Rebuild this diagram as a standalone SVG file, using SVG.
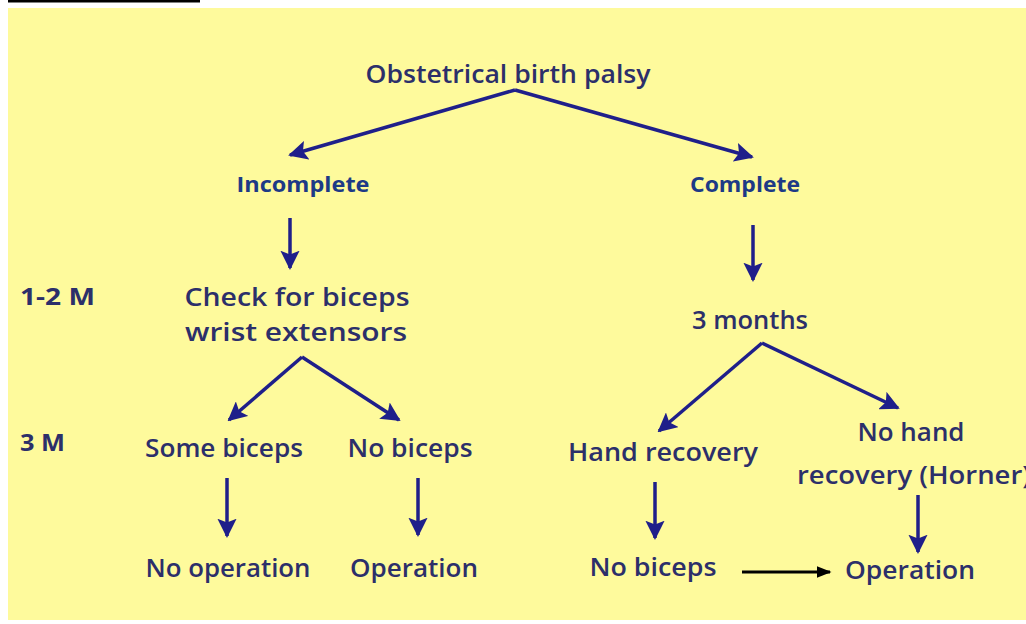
<svg xmlns="http://www.w3.org/2000/svg" width="1026" height="624" viewBox="0 0 1026 624">
<style>
.t{font-family:"Open Sans","DejaVu Sans",sans-serif;font-size:26px;font-weight:600;fill:#2c2f6a;text-anchor:middle}
.h{font-family:"Open Sans","DejaVu Sans",sans-serif;font-size:22px;font-weight:700;fill:#1d3a86;text-anchor:middle}
.l{font-family:"Open Sans","DejaVu Sans",sans-serif;font-size:23px;font-weight:700;fill:#2c2f6a}
.c{stroke:#1f1f8a;stroke-width:3.5;fill:none;marker-end:url(#ah)}
.k{stroke:#000;stroke-width:3;fill:none;marker-end:url(#ak)}
</style>
<defs>
<marker id="ah" viewBox="0 0 10 10" refX="9" refY="5" markerWidth="5.5" markerHeight="5.5" orient="auto" markerUnits="strokeWidth">
<path d="M0,0 L10,5 L0,10 L2,5 Z" fill="#1f1f8a"/>
</marker>
<marker id="ak" viewBox="0 0 10 10" refX="9" refY="5" markerWidth="5" markerHeight="5" orient="auto" markerUnits="strokeWidth">
<path d="M0,1 L10,5 L0,9 Z" fill="#000"/>
</marker>
</defs>
<rect x="0" y="0" width="1026" height="624" fill="#ffffff"/>
<rect x="8" y="0" width="192" height="2.5" fill="#000"/>
<rect x="8" y="8" width="1018" height="612" fill="#fefa9c"/>

<g id="connectors">
<path class="c" d="M515,90 L290,155"/>
<path class="c" d="M515,90 L752,157"/>
<path class="c" d="M290,218 L290,268"/>
<path class="c" d="M753,225 L753,280"/>
<path class="c" d="M302,357 L229,420"/>
<path class="c" d="M302,357 L399,420"/>
<path class="c" d="M762,343 L659,431"/>
<path class="c" d="M762,343 L898,408"/>
<path class="c" d="M227,478 L227,536"/>
<path class="c" d="M418,478 L418,535"/>
<path class="c" d="M655,482 L655,538"/>
<path class="c" d="M918,495 L918,552"/>
<path class="k" d="M742,572 L830,572"/>
</g>

<g id="n-root"><text class="t" x="508" y="83" textLength="285" lengthAdjust="spacingAndGlyphs">Obstetrical birth palsy</text></g>
<g id="n-incomplete"><text class="h" x="303" y="192" textLength="133" lengthAdjust="spacingAndGlyphs">Incomplete</text></g>
<g id="n-complete"><text class="h" x="745" y="192" textLength="110" lengthAdjust="spacingAndGlyphs">Complete</text></g>
<g id="lbl-12m"><text class="l" x="20" y="305" textLength="75" lengthAdjust="spacingAndGlyphs">1-2 M</text></g>
<g id="n-check">
<text class="t" x="297" y="306" textLength="225" lengthAdjust="spacingAndGlyphs">Check for biceps</text>
<text class="t" x="296" y="341" textLength="222" lengthAdjust="spacingAndGlyphs">wrist extensors</text>
</g>
<g id="n-3months"><text class="t" x="750" y="329" textLength="116" lengthAdjust="spacingAndGlyphs">3 months</text></g>
<g id="lbl-3m"><text class="l" x="20" y="451" textLength="45" lengthAdjust="spacingAndGlyphs">3 M</text></g>
<g id="n-some"><text class="t" x="224" y="457" textLength="158" lengthAdjust="spacingAndGlyphs">Some biceps</text></g>
<g id="n-nobiceps1"><text class="t" x="410" y="457" textLength="125" lengthAdjust="spacingAndGlyphs">No biceps</text></g>
<g id="n-handrec"><text class="t" x="663" y="461" textLength="190" lengthAdjust="spacingAndGlyphs">Hand recovery</text></g>
<g id="n-nohand">
<text class="t" x="911" y="441" textLength="107" lengthAdjust="spacingAndGlyphs">No hand</text>
<text class="t" x="914" y="484" textLength="234" lengthAdjust="spacingAndGlyphs">recovery (Horner)</text>
</g>
<g id="n-noop"><text class="t" x="228" y="577" textLength="165" lengthAdjust="spacingAndGlyphs">No operation</text></g>
<g id="n-op1"><text class="t" x="414" y="577" textLength="128" lengthAdjust="spacingAndGlyphs">Operation</text></g>
<g id="n-nobiceps2"><text class="t" x="653" y="576" textLength="127" lengthAdjust="spacingAndGlyphs">No biceps</text></g>
<g id="n-op2"><text class="t" x="910" y="579" textLength="130" lengthAdjust="spacingAndGlyphs">Operation</text></g>
</svg>
